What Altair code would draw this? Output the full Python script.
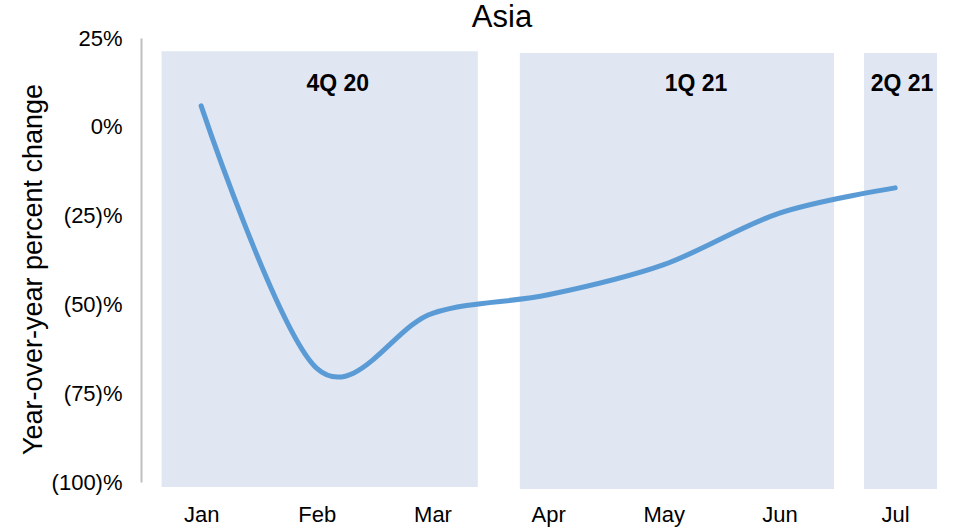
import json
import altair as alt
import pandas as pd

# ---- data ----
months = ["Jan", "Feb", "Mar", "Apr", "May", "Jun", "Jul"]
values = [5.9, -68.0, -52.5, -47.3, -38.8, -24.3, -17.2]

quarters = ["4Q 20", "1Q 21", "2Q 21"]
band_start = [-0.342, 2.755, 5.731]
band_end = [2.392, 5.471, 6.362]
band_top = [21.3, 20.8, 20.8]
band_bottom = [-101.4, -102.0, -102.0]
label_x = [1.181, 4.278, 6.059]
label_y = [12.0, 12.0, 12.0]

y_ticks = [25, 0, -25, -50, -75, -100]
chart_title = ["Asia"]

FONT = "Liberation Sans"

line_df = pd.DataFrame({"idx": list(range(len(months))), "month": months, "value": values})
band_df = pd.DataFrame({
    "quarter": quarters, "x0": band_start, "x1": band_end,
    "y0": band_bottom, "y1": band_top, "lx": label_x, "ly": label_y,
})
title_df = pd.DataFrame({"t": chart_title})

x_scale = alt.Scale(domain=[-0.52, 6.5], nice=False, zero=False)
y_scale = alt.Scale(domain=[-100, 25], nice=False, zero=False)

month_expr = json.dumps(months) + "[round(datum.value)]"

x_axis = alt.Axis(
    values=list(range(len(months))), labelExpr=month_expr, title=None,
    domain=False, ticks=False, tickSize=0, grid=False, labelPadding=22,
    labelFont=FONT, labelFontSize=22, labelColor="#000000",
)
y_axis = alt.Axis(
    values=y_ticks,
    labelExpr="datum.value < 0 ? '(' + abs(datum.value) + ')%' : datum.value + '%'",
    title="Year-over-year percent change", titleFont=FONT, titleFontSize=27,
    titleFontWeight="normal", titleColor="#000000", titleX=-108, titleY=231,
    titleAngle=-90, titleAlign="center", titleBaseline="middle",
    domain=True, domainColor="#BFBFBF", domainWidth=2, ticks=False, tickSize=0,
    grid=False, labelPadding=19, labelFont=FONT, labelFontSize=22,
    labelColor="#000000",
)

bands = alt.Chart(band_df).mark_rect(color="#E0E6F2", clip=False).encode(
    x=alt.X("x0:Q", scale=x_scale, axis=x_axis),
    x2="x1:Q",
    y=alt.Y("y0:Q", scale=y_scale, axis=y_axis),
    y2="y1:Q",
)

labels = alt.Chart(band_df).mark_text(
    font=FONT, fontSize=23, fontWeight="bold", color="#000000",
    baseline="middle", align="center",
).encode(
    x=alt.X("lx:Q", scale=x_scale),
    y=alt.Y("ly:Q", scale=y_scale),
    text="quarter:N",
)

line = alt.Chart(line_df).mark_line(
    color="#5B9BD5", strokeWidth=5, interpolate="cardinal", strokeCap="round",
).encode(
    x=alt.X("idx:Q", scale=x_scale),
    y=alt.Y("value:Q", scale=y_scale),
)

title_text = alt.Chart(title_df).mark_text(
    font=FONT, fontSize=31, fontWeight="normal", color="#000000",
    align="center", baseline="alphabetic",
).encode(
    x=alt.value(361), y=alt.value(-11), text="t:N",
)

chart = alt.layer(bands, labels, line, title_text).properties(
    width=812, height=444,
    padding={"left": 141, "top": 38, "right": 0, "bottom": 47},
    autosize=alt.AutoSizeParams(type="none"),
).configure(background="#FFFFFF").configure_view(stroke=None)

chart.save("out.html", embed_options={"renderer": "svg", "actions": False})
